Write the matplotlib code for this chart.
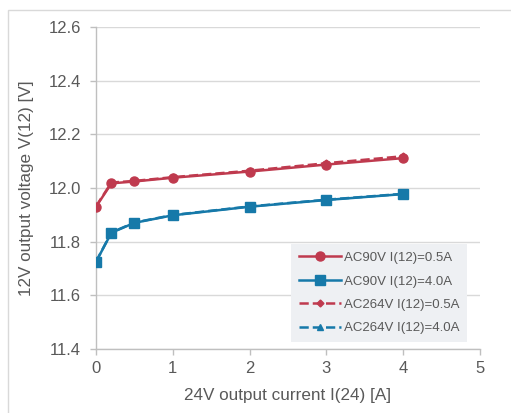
import matplotlib.pyplot as plt
import matplotlib.patches as patches

plt.rcParams['font.family'] = ['Liberation Sans', 'DejaVu Sans']

# -------------- Data --------------
current = [0, 0.2, 0.5, 1, 2, 3, 4]
v_ac90_05 = [11.93, 12.017, 12.024, 12.038, 12.061, 12.087, 12.111]
v_ac90_40 = [11.725, 11.833, 11.870, 11.898, 11.930, 11.955, 11.977]
v_ac264_05 = [11.932, 12.020, 12.026, 12.040, 12.064, 12.092, 12.118]
v_ac264_40 = [11.726, 11.834, 11.871, 11.899, 11.931, 11.956, 11.978]
labels = ['AC90V I(12)=0.5A', 'AC90V I(12)=4.0A',
          'AC264V I(12)=0.5A', 'AC264V I(12)=4.0A']

red = '#bf3a4e'
blue = '#1679a9'
txt = '#595959'
grey = '#bfbfbf'

fig = plt.figure(figsize=(5.11, 4.13), dpi=100)
ax = fig.add_axes([0.188, 0.155, 0.751, 0.780])

# -------------- figure frame --------------
frame = patches.Rectangle((8 / 511, -0.01), 1.0, 1 - 10 / 413 + 0.01,
                          transform=fig.transFigure, fill=False,
                          ec='#d9d9d9', lw=1.0, zorder=-1)
fig.patches.append(frame)

# -------------- series --------------
ax.plot(current, v_ac90_05, '-', color=red, lw=1.8, marker='o', ms=6.5, label=labels[0], zorder=3)
ax.plot(current, v_ac90_40, '-', color=blue, lw=1.8, marker='s', ms=6.5, label=labels[1], zorder=3)
ax.plot(current, v_ac264_05, '--', color=red, lw=1.8, marker='D', ms=3.5, label=labels[2], zorder=2)
ax.plot(current, v_ac264_40, '--', color=blue, lw=1.8, marker='^', ms=4, label=labels[3], zorder=2)

# -------------- axes setup --------------
ax.set_xlim(0, 5)
ax.set_ylim(11.4, 12.6)
ax.set_xticks([0, 1, 2, 3, 4, 5])
ax.set_yticks([11.4, 11.6, 11.8, 12.0, 12.2, 12.4, 12.6])
ax.set_yticklabels(['11.4', '11.6', '11.8', '12.0', '12.2', '12.4', '12.6'])
ax.grid(axis='y', color='#d9d9d9', lw=1.0)
ax.set_axisbelow(True)
for s in ['top', 'right']:
    ax.spines[s].set_visible(False)
for s in ['left', 'bottom']:
    ax.spines[s].set_color(grey)
    ax.spines[s].set_linewidth(1.0)
ax.tick_params(axis='both', colors=grey, labelcolor=txt, labelsize=12, length=4, width=1.0)
ax.tick_params(axis='y', pad=7)
ax.tick_params(axis='x', pad=5)

ax.set_xlabel('24V output current I(24) [A]', color=txt, fontsize=12.3, labelpad=8)
ax.set_ylabel('12V output voltage V(12) [V]', color=txt, fontsize=12.3, labelpad=10)

leg = ax.legend(loc='lower right', bbox_to_anchor=(0.985, 0.0), fontsize=9.5,
                frameon=True, fancybox=False, facecolor='#eef0f3', edgecolor='none',
                framealpha=1.0, handlelength=3.2, labelspacing=0.85, borderpad=0.6,
                handletextpad=0.2)
for t in leg.get_texts():
    t.set_color(txt)

fig.savefig('out.png', dpi=100)
